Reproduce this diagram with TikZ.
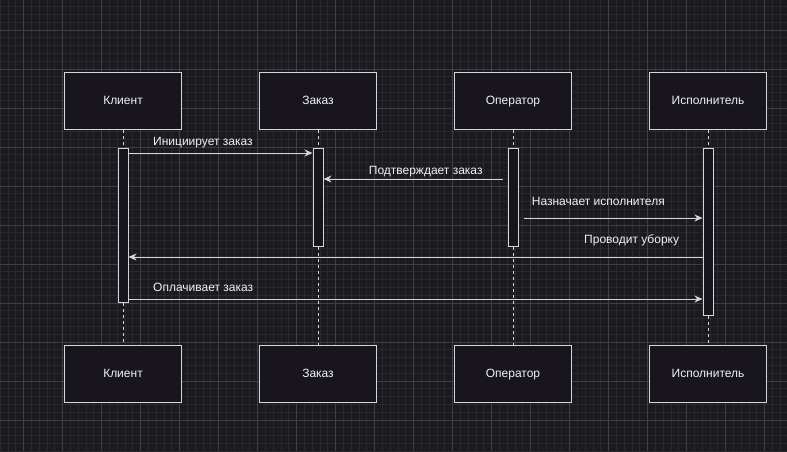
\documentclass[tikz,border=0pt]{standalone}
\usepackage{fontspec}
\setmainfont{Liberation Sans}
\usetikzlibrary{arrows.meta}
\definecolor{bgc}{HTML}{1B1A1F}
\definecolor{minorc}{HTML}{29282D}
\definecolor{majorc}{HTML}{3F3E44}
\definecolor{boxfill}{HTML}{18151E}
\definecolor{edgec}{HTML}{D6D6D6}
\definecolor{txtc}{HTML}{F2F2F2}
\tikzset{
  actor/.style={draw=edgec, line width=1.5pt, fill=boxfill, minimum width=117pt, minimum height=57pt, inner sep=0pt, text=txtc, text height=8.7pt, text depth=2.6pt, font=\fontsize{12}{14}\selectfont},
  actbar/.style={draw=edgec, line width=1pt, fill=boxfill, minimum width=10pt, inner sep=0pt},
  lifeline/.style={draw=edgec, line width=1pt, dash pattern=on 3pt off 3pt},
  msg/.style={draw=edgec, line width=1pt, -{Stealth[length=8pt,width=7pt,inset=2.5pt]}},
  msglabel/.style={text=txtc, inner sep=0pt, text height=8.7pt, text depth=2.6pt, font=\fontsize{12}{14}\selectfont}
}
\begin{document}
\begin{tikzpicture}[x=1pt,y=-1pt]
\fill[bgc] (0,0) rectangle (787,451);
\useasboundingbox (0,0) rectangle (787,451);
% minor grid
\foreach \i in {0,...,101} {
  \draw[minorc, line width=0.7pt] ({23.5-3*7.8+\i*7.8},0) -- ({23.5-3*7.8+\i*7.8},451);
}
\foreach \i in {0,...,58} {
  \draw[minorc, line width=0.7pt] (0,{30-3*7.8+\i*7.8}) -- (787,{30-3*7.8+\i*7.8});
}
% major grid
\foreach \i in {0,...,20} {
  \draw[majorc, line width=0.8pt] ({23.5+\i*39},0) -- ({23.5+\i*39},451);
}
\foreach \i in {0,...,11} {
  \draw[majorc, line width=0.8pt] (0,{30+\i*39}) -- (787,{30+\i*39});
}
% actors top
\node[actor] (t1) at (123,101) {Клиент};
\node[actor] (t2) at (318,101) {Заказ};
\node[actor] (t3) at (513,101) {Оператор};
\node[actor] (t4) at (708,101) {Исполнитель};
% actors bottom
\node[actor] (u1) at (123,374) {Клиент};
\node[actor] (u2) at (318,374) {Заказ};
\node[actor] (u3) at (513,374) {Оператор};
\node[actor] (u4) at (708,374) {Исполнитель};
% activation bars
\node[actbar, minimum height=154pt] (b1) at (123,225.5) {};
\node[actbar, minimum height=98pt] (b2) at (318,197.5) {};
\node[actbar, minimum height=98pt] (b3) at (513,197.5) {};
\node[actbar, minimum height=166.5pt] (b4) at (708,231.75) {};
% lifelines
\foreach \k in {1,2,3,4} {
  \draw[lifeline] (t\k.south) -- (b\k.north);
  \draw[lifeline] (b\k.south) -- (u\k.north);
}
% messages
\draw[msg] ([yshift=-5pt]b1.north east) -- ([yshift=-5pt]b2.north west);
\draw[msg] ([xshift=-5pt,yshift=-31pt]b3.north west) -- ([yshift=-31pt]b2.north east);
\draw[msg] ([xshift=5pt,yshift=-70pt]b3.north east) -- ([yshift=-70pt]b4.north west);
\draw[msg] ([yshift=-109pt]b4.north west) -- ([yshift=-109pt]b1.north east);
\draw[msg] ([yshift=-151pt]b1.north east) -- ([yshift=-151pt]b4.north west);
% labels
\node[msglabel, anchor=west] (l1) at (153,142.5) {Инициирует заказ};
\node[msglabel] (l2) at (425.7,171) {Подтверждает заказ};
\node[msglabel, anchor=west] (l3) at (531.7,202.5) {Назначает исполнителя};
\node[msglabel, anchor=west] (l4) at (584,240) {Проводит уборку};
\node[msglabel, anchor=west] (l5) at (153,288) {Оплачивает заказ};
\end{tikzpicture}
\end{document}
